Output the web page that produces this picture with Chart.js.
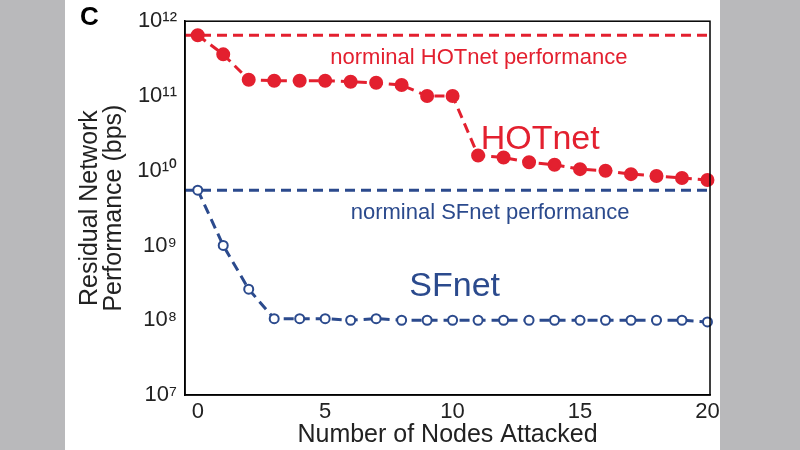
<!DOCTYPE html>
<html>
<head>
<meta charset="utf-8">
<script src="https://cdn.jsdelivr.net/npm/chart.js@4"></script>
<style>
  body { margin: 0; background: #b9b9bb; }
  #wrap { position: absolute; left: 65px; top: 0; width: 655px; height: 450px; background: #fff; }
  #c { position: absolute; left: 0; top: 0; }
</style>
</head>
<body>
<div id="wrap"></div>
<canvas id="c" width="800" height="450"></canvas>
<script>
const nodes = [0,1,2,3,4,5,6,7,8,9,10,11,12,13,14,15,16,17,18,19,20];
const hotnet = [6.5e11,3.6e11,1.65e11,1.6e11,1.6e11,1.6e11,1.55e11,1.5e11,1.4e11,1.0e11,1.0e11,1.6e10,1.5e10,1.3e10,1.2e10,1.05e10,1.0e10,9e9,8.5e9,8e9,7.5e9];
const sfnet = [5.5e9,1.0e9,2.6e8,1.05e8,1.05e8,1.05e8,1.0e8,1.05e8,1.0e8,1.0e8,1.0e8,1.0e8,1.0e8,1.0e8,1.0e8,1.0e8,1.0e8,1.0e8,1.0e8,1.0e8,9.5e7];
const nominalHot = 6.5e11;
const nominalSF = 5.5e9;
const yTicks = [1e7,1e8,1e9,1e10,1e11,1e12];
const xTicks = [0,5,10,15,20];
const red = "#e3202f", blue = "#2b4a8d";
const sup = {"0":"⁰","1":"¹","2":"²","3":"³","4":"⁴","5":"⁵","6":"⁶","7":"⁷","8":"⁸","9":"⁹"};
const font = "Arial, 'Liberation Sans', sans-serif";

const labels = {
  id: "labels",
  afterDraw(chart) {
    const {ctx, scales: {x, y}} = chart;
    ctx.save();
    ctx.textBaseline = "middle";
    const put = (t, xv, yv, col, size) => {
      ctx.fillStyle = col;
      ctx.font = size + "px " + font;
      ctx.fillText(t, x.getPixelForValue(xv), y.getPixelForValue(yv));
    };
    put("norminal HOTnet performance", 5.2, 3.2e11, red, 22);
    put("HOTnet", 11.1, 2.6e10, red, 34);
    put("norminal SFnet performance", 6.0, 2.7e9, blue, 22);
    put("SFnet", 8.3, 2.8e8, blue, 34);
    ctx.fillStyle = "#000";
    ctx.font = "bold 26px " + font;
    ctx.fillText("C", 80, 18);
    ctx.restore();
  }
};

new Chart("c", {
  type: "line",
  data: {
    labels: nodes,
    datasets: [
      { data: nodes.map((n, i) => ({x: n, y: hotnet[i]})), borderColor: red, backgroundColor: red, clip: false,
        borderDash: [10, 6], borderWidth: 3, pointRadius: 5.5, pointBackgroundColor: red, pointBorderColor: red },
      { data: nodes.map((n, i) => ({x: n, y: sfnet[i]})), borderColor: blue, backgroundColor: blue, clip: false,
        borderDash: [10, 6], borderWidth: 3, pointRadius: 4.5, pointBorderWidth: 2, pointBackgroundColor: "#fff", pointBorderColor: blue },
      { data: [{x: -0.5, y: nominalHot}, {x: 20.1, y: nominalHot}], borderColor: red,
        borderDash: [10, 6], borderWidth: 3, pointRadius: 0 },
      { data: [{x: -0.5, y: nominalSF}, {x: 20.1, y: nominalSF}], borderColor: blue,
        borderDash: [10, 6], borderWidth: 3, pointRadius: 0 }
    ]
  },
  options: {
    responsive: false,
    animation: false,
    layout: { padding: { top: 20, right: 90, bottom: 0, left: 78 } },
    plugins: { legend: { display: false }, tooltip: { enabled: false } },
    scales: {
      x: {
        type: "linear", min: -0.5, max: 20.1,
        afterBuildTicks: s => { s.ticks = xTicks.map(v => ({value: v})); },
        afterFit: s => { s.height = 55; },
        grid: { display: false, drawTicks: false },
        border: { color: "#000", width: 1.5 },
        ticks: { color: "#222", font: { size: 22, family: font }, padding: 4 },
        title: { display: true, text: "Number of Nodes Attacked", color: "#222", font: { size: 25, family: font }, padding: 0 }
      },
      y: {
        type: "logarithmic", min: 1e7, max: 1e12,
        afterBuildTicks: s => { s.ticks = yTicks.map(v => ({value: v})); },
        afterFit: s => { s.width = 107; },
        grid: { display: false, drawTicks: false },
        border: { color: "#000", width: 1.5 },
        ticks: { color: "#222", font: { size: 22, family: font }, padding: 8,
          callback: v => "10" + String(Math.round(Math.log10(v))).split("").map(d => sup[d]).join("") },
        title: { display: true, text: ["Residual Network", "Performance (bps)"], color: "#222",
          font: { size: 25, family: font, lineHeight: 0.95 }, padding: 0 }
      }
    }
  },
  plugins: [labels, {
    id: "box",
    afterDraw(chart) {
      const {ctx, chartArea: a} = chart;
      ctx.save(); ctx.strokeStyle = "#000"; ctx.lineWidth = 1.5;
      ctx.strokeRect(a.left, a.top, a.right - a.left, a.bottom - a.top);
      ctx.restore();
    }
  }]
});
</script>
</body>
</html>
